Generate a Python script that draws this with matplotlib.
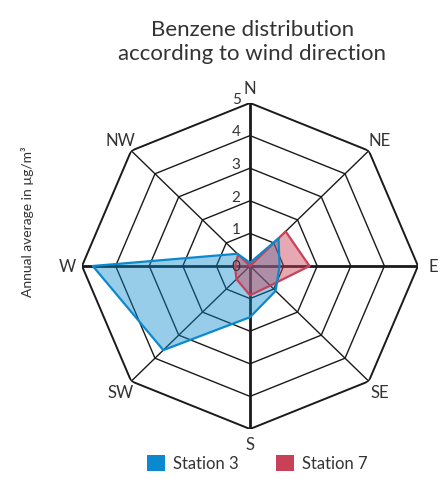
import numpy as np
import matplotlib
matplotlib.use("Agg")
import matplotlib.pyplot as plt
from matplotlib.patches import Patch

plt.rcParams['font.family'] = ['Lato', 'DejaVu Sans']

directions = ["N", "NE", "E", "SE", "S", "SW", "W", "NW"]
station3 = [0.1, 1.2, 0.88, 1.08, 1.57, 3.65, 4.68, 0.53]
station7 = [0.0, 1.5, 1.77, 0.85, 0.9, 0.57, 0.45, 0.5]
levels = [1, 2, 3, 4, 5]
tick_labels = ["0", "1", "2", "3", "4", "5"]

blue = "#0A89CF"
red = "#C94157"
text_col = "#333333"

angles = np.linspace(0, 2 * np.pi, len(directions), endpoint=False)
closed = np.append(angles, angles[0])

fig = plt.figure(figsize=(4.4, 4.85), dpi=100)
ax = fig.add_axes([0.1864, 0.1134, 0.7636, 0.6722], projection="polar")
ax.set_aspect("auto")
ax.set_theta_zero_location("N")
ax.set_theta_direction(-1)
ax.set_ylim(0, 5)
ax.grid(False)
ax.spines["polar"].set_visible(False)
ax.set_xticks([])
ax.set_yticks([])

# octagon grid
for lv in levels:
    lw = 1.4 if lv == 5 else 1.0
    ax.plot(closed, [lv] * len(closed), color="#1a1a1a", lw=lw, zorder=1)
for i, a in enumerate(angles):
    lw = 2.0 if i % 2 == 0 else 1.0
    ax.plot([a, a], [0, 5], color="#1a1a1a", lw=lw, zorder=1)

# series
s7 = np.append(station7, station7[0])
s3 = np.append(station3, station3[0])
ax.fill(closed, s3, color=blue, alpha=0.42, lw=0, zorder=2)
ax.fill(closed, s7, color=red, alpha=0.45, lw=0, zorder=3)
ax.plot(closed, s7, color=red, lw=1.6, zorder=4)
ax.plot(closed, s3, color=blue, lw=1.6, zorder=5)

# scale labels
for i, lab in enumerate(tick_labels):
    ax.annotate(lab, xy=(0, i), xytext=(-10, 3 if i > 0 else 0),
                textcoords="offset points", ha="center", va="center",
                fontsize=11, color=text_col, zorder=6)

# direction labels
for a, d in zip(angles, directions):
    ax.text(a, 5.45, d, ha="center", va="center", fontsize=12, color=text_col)

fig.text(0.573, 0.913, "Benzene distribution\naccording to wind direction",
         ha="center", va="center", fontsize=16, color=text_col, linespacing=1.25)
fig.text(0.062, 0.542, "Annual average in µg/m³", rotation=90,
         ha="center", va="center", fontsize=10, color=text_col)

handles = [Patch(facecolor=blue, edgecolor="none"), Patch(facecolor=red, edgecolor="none")]
fig.legend(handles, ["Station 3", "Station 7"], loc="lower center",
           bbox_to_anchor=(0.585, -0.005), ncol=2, frameon=False, fontsize=12,
           handlelength=1.1, handleheight=1.1, handletextpad=0.5, columnspacing=2.2,
           labelcolor=text_col)

fig.savefig("out.png", dpi=100)
